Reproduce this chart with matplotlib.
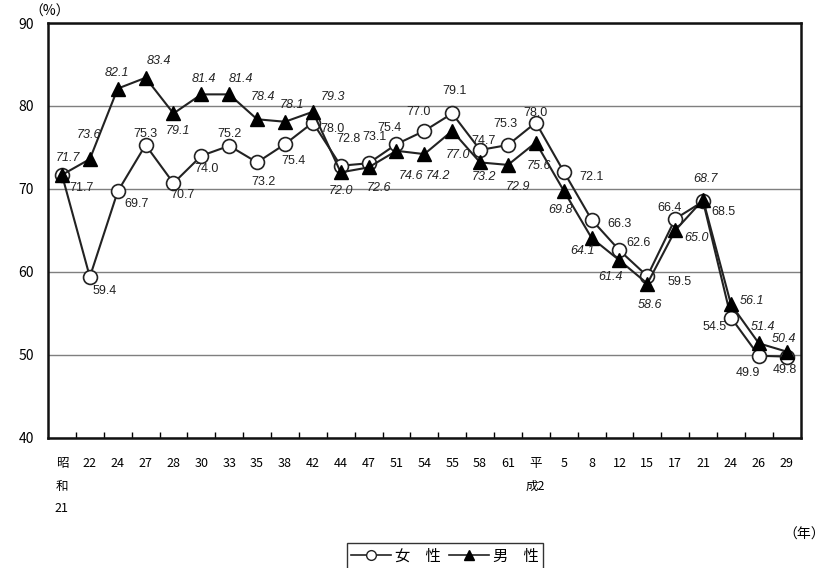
import numpy as np
import matplotlib
matplotlib.use('Agg')
import matplotlib.pyplot as plt
from matplotlib.lines import Line2D

plt.rcParams['font.family'] = ['Noto Sans CJK JP', 'DejaVu Sans']

# 年次（昭和21 … 平成29）
years = ['昭\n和\n21', '22', '24', '27', '28', '30', '33', '35', '38', '42',
         '44', '47', '51', '54', '55', '58', '61', '平\n成2', '5', '8',
         '12', '15', '17', '21', '24', '26', '29']

female = [71.7, 59.4, 69.7, 75.3, 70.7, 74.0, 75.2, 73.2, 75.4, 78.0,
          72.8, 73.1, 75.4, 77.0, 79.1, 74.7, 75.3, 78.0, 72.1, 66.3,
          62.6, 59.5, 66.4, 68.5, 54.5, 49.9, 49.8]
male = [71.7, 73.6, 82.1, 83.4, 79.1, 81.4, 81.4, 78.4, 78.1, 79.3,
        72.0, 72.6, 74.6, 74.2, 77.0, 73.2, 72.9, 75.6, 69.8, 64.1,
        61.4, 58.6, 65.0, 68.7, 56.1, 51.4, 50.4]

# ラベル位置のずらし（ピクセル, 上が正）
f_off = [(20, -13), (15, -14), (19, -13), (0, 11), (9, -12), (5, -13), (0, 12),
         (6, -20), (9, -17), (20, -6), (8, 27), (6, 26), (-7, 16), (-6, 19),
         (2, 22), (3, 9), (-3, 21), (0, 10), (28, -5), (28, -4), (19, 7),
         (32, -6), (-6, 11), (20, -11), (-16, -9), (-11, -17), (-2, -13)]
m_off = [(6, 17), (-1, 24), (-1, 16), (13, 17), (4, -18), (3, 15), (12, 15),
         (6, 22), (7, 17), (20, 15), (0, -19), (10, -21), (14, -25), (14, -22),
         (6, -24), (4, -15), (10, -22), (3, -23), (-3, -19), (-9, -13),
         (-9, -17), (3, -21), (21, -8), (2, 21), (21, 3), (4, 16), (-3, 13)]

fig = plt.figure(figsize=(8.34, 5.68), dpi=100)
ax = fig.add_axes([0.0576, 0.229, 0.9024, 0.7305])

x = np.arange(len(years))

ax.plot(x, female, color='#222222', lw=1.5, marker='o', ms=10,
        mfc='white', mec='#222222', mew=1.2, zorder=3)
ax.plot(x, male, color='#222222', lw=1.5, marker='^', ms=10,
        mfc='black', mec='black', zorder=4)

for i in range(len(x)):
    ax.annotate(f'{female[i]:.1f}', (x[i], female[i]), xytext=f_off[i],
                textcoords='offset pixels', ha='center', va='center',
                fontsize=9, family='Liberation Sans', color='#222222', zorder=5)
    ax.annotate(f'{male[i]:.1f}', (x[i], male[i]), xytext=m_off[i],
                textcoords='offset pixels', ha='center', va='center',
                fontsize=9, family='Liberation Sans', style='italic',
                color='#222222', zorder=5)

ax.set_xlim(-0.5, len(years) - 0.5)
ax.set_ylim(40, 90)
ax.set_yticks([40, 50, 60, 70, 80, 90])
ax.yaxis.grid(True, color='#7f7f7f', lw=1)
ax.set_axisbelow(True)
ax.tick_params(axis='y', length=0, labelsize=10, pad=10)

ax.set_xticks(x)
ax.set_xticklabels(years, fontsize=9, linespacing=1.95)
ax.set_xticks(np.arange(0.5, len(years) - 1, 1), minor=True)
ax.tick_params(axis='x', which='major', length=0, pad=14)
ax.tick_params(axis='x', which='minor', direction='in', length=4, width=1)

for s in ax.spines.values():
    s.set_linewidth(1.8)
    s.set_color('#111111')

fig.text(50 / 834, 1 - 12 / 568, '（%）', fontsize=10, ha='center', va='center')
fig.text(804 / 834, 1 - 535 / 568, '（年）', fontsize=10, ha='center', va='center')

handles = [Line2D([0], [0], color='#222222', lw=1.2, marker='o', ms=7,
                  mfc='white', mec='#222222'),
           Line2D([0], [0], color='#222222', lw=1.2, marker='^', ms=7,
                  mfc='black', mec='black')]
fig.legend(handles, ['女　性', '男　性'], loc='center', ncol=2,
           bbox_to_anchor=(445 / 834, 1 - 556 / 568), frameon=True,
           fancybox=False, edgecolor='black', fontsize=11, handlelength=2.6,
           handletextpad=0.3, columnspacing=0.5, borderpad=0.3)

fig.savefig('out.png', dpi=100)
